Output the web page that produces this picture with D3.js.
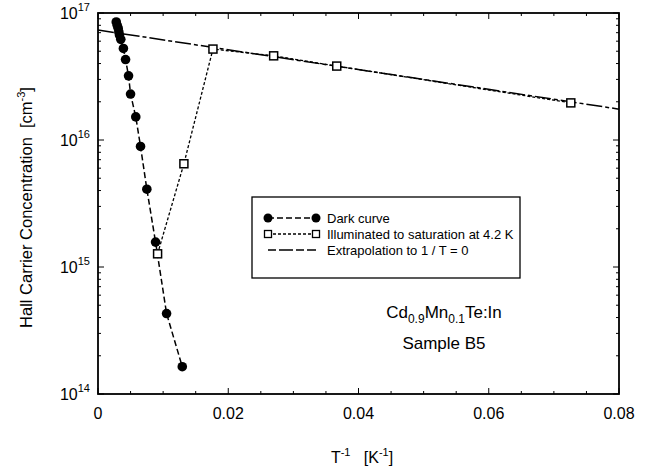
<!DOCTYPE html>
<html>
<head>
<meta charset="utf-8">
<script src="https://cdn.jsdelivr.net/npm/d3@7"></script>
<style>
  body { margin: 0; background: #fff; }
  svg { font-family: "Liberation Sans", Arial, sans-serif; }
</style>
</head>
<body>
<div id="plot"></div>
<script>
// Data (x = 1/T in K^-1, y = carrier concentration in cm^-3)
const darkX = [0.0028, 0.00295, 0.0031, 0.0032, 0.0033, 0.0035, 0.0039, 0.00423, 0.00469, 0.005, 0.0058, 0.00653, 0.0075, 0.00884, 0.01053, 0.01294];
const darkY = [8.5e16, 8.0e16, 7.6e16, 7.1e16, 6.7e16, 6.2e16, 5.26e16, 4.3e16, 3.2e16, 2.3e16, 1.52e16, 8.9e15, 4.1e15, 1.57e15, 4.3e14, 1.64e14];

const illumX = [0.00915, 0.01319, 0.01765, 0.02697, 0.03666, 0.0726];
const illumY = [1.27e15, 6.5e15, 5.2e16, 4.6e16, 3.82e16, 1.96e16];

const extrapX = [0, 0.08];
const extrapY = [7.35e16, 1.75e16];

const xTicks = [0, 0.02, 0.04, 0.06, 0.08];
const xTickLabels = ["0", "0.02", "0.04", "0.06", "0.08"];
const yExponents = [14, 15, 16, 17];

const legendLabels = ["Dark curve", "Illuminated to saturation at  4.2 K", "Extrapolation to 1 / T = 0"];

// Layout
const W = 647, H = 476;
const margin = {top: 13, right: 28, bottom: 82, left: 98};
const width = W - margin.left - margin.right;
const height = H - margin.top - margin.bottom;

const svg = d3.select("#plot")
    .append("svg")
    .attr("width", W)
    .attr("height", H);

const g = svg.append("g")
    .attr("transform", `translate(${margin.left},${margin.top})`);

const x = d3.scaleLinear().domain([0, 0.08]).range([0, width]);
const y = d3.scaleLog().domain([1e14, 1e17]).range([height, 0]);

// Frame
g.append("rect")
    .attr("width", width)
    .attr("height", height)
    .attr("fill", "none")
    .attr("stroke", "#000")
    .attr("stroke-width", 1.8);

// Ticks (inward on all four sides)
const xMinor = d3.range(0, 0.0801, 0.005);
const yMinor = [];
for (let e = 14; e < 17; e++) for (let m = 2; m <= 9; m++) yMinor.push(m * Math.pow(10, e));

const tickG = g.append("g").attr("stroke", "#000").attr("stroke-width", 1);
xMinor.forEach(v => {
    const major = xTicks.some(t => Math.abs(t - v) < 1e-9);
    const len = major ? 6 : 3;
    tickG.append("line").attr("x1", x(v)).attr("x2", x(v)).attr("y1", height).attr("y2", height - len);
    tickG.append("line").attr("x1", x(v)).attr("x2", x(v)).attr("y1", 0).attr("y2", len);
});
yMinor.forEach(v => {
    tickG.append("line").attr("x1", 0).attr("x2", 3).attr("y1", y(v)).attr("y2", y(v));
    tickG.append("line").attr("x1", width).attr("x2", width - 3).attr("y1", y(v)).attr("y2", y(v));
});
yExponents.forEach(e => {
    const v = Math.pow(10, e);
    tickG.append("line").attr("x1", 0).attr("x2", 6).attr("y1", y(v)).attr("y2", y(v));
    tickG.append("line").attr("x1", width).attr("x2", width - 6).attr("y1", y(v)).attr("y2", y(v));
});

// X tick labels
g.selectAll(".xlab")
    .data(xTicks)
    .enter().append("text")
    .attr("x", d => x(d))
    .attr("y", height + 25)
    .attr("text-anchor", "middle")
    .style("font-size", "16px")
    .text((d, i) => xTickLabels[i]);

// Y tick labels: 10^n
yExponents.forEach(e => {
    const t = g.append("text")
        .attr("x", -8)
        .attr("y", y(Math.pow(10, e)) + 6)
        .attr("text-anchor", "end")
        .style("font-size", "16px");
    t.append("tspan").text("10");
    t.append("tspan").attr("dy", -8).style("font-size", "11px").text(e);
});

// Axis titles
const xt = svg.append("text")
    .attr("x", 362)
    .attr("y", 463)
    .attr("text-anchor", "middle")
    .style("font-size", "16px");
xt.append("tspan").text("T");
xt.append("tspan").attr("dy", -7).style("font-size", "11px").text("-1");
xt.append("tspan").attr("dy", 7).text("\u00a0\u00a0\u00a0[K");
xt.append("tspan").attr("dy", -7).style("font-size", "11px").text("-1");
xt.append("tspan").attr("dy", 7).text("]");

const yt = svg.append("text")
    .attr("transform", `translate(32,${margin.top + height / 2 + 4}) rotate(-90)`)
    .attr("text-anchor", "middle")
    .style("font-size", "16.5px");
yt.append("tspan").text("Hall Carrier Concentration\u00a0\u00a0[cm");
yt.append("tspan").attr("dy", -7).style("font-size", "11px").text("-3");
yt.append("tspan").attr("dy", 7).text("]");

// Lines
const line = d3.line().x(d => x(d[0])).y(d => y(d[1]));
const darkPts = darkX.map((v, i) => [v, darkY[i]]);
const illumPts = illumX.map((v, i) => [v, illumY[i]]);
const extrapPts = extrapX.map((v, i) => [v, extrapY[i]]);

g.append("path")
    .datum(extrapPts)
    .attr("d", line)
    .attr("fill", "none")
    .attr("stroke", "#000")
    .attr("stroke-width", 1.5)
    .attr("stroke-dasharray", "16,3,4,3");

g.append("path")
    .datum(illumPts)
    .attr("d", line)
    .attr("fill", "none")
    .attr("stroke", "#000")
    .attr("stroke-width", 1.3)
    .attr("stroke-dasharray", "3,2");

g.append("path")
    .datum(darkPts)
    .attr("d", line)
    .attr("fill", "none")
    .attr("stroke", "#000")
    .attr("stroke-width", 1.5)
    .attr("stroke-dasharray", "6,3");

// Markers
g.selectAll(".dark")
    .data(darkPts)
    .enter().append("circle")
    .attr("cx", d => x(d[0]))
    .attr("cy", d => y(d[1]))
    .attr("r", 4.8)
    .attr("fill", "#000");

g.selectAll(".illum")
    .data(illumPts)
    .enter().append("rect")
    .attr("x", d => x(d[0]) - 4)
    .attr("y", d => y(d[1]) - 4)
    .attr("width", 8)
    .attr("height", 8)
    .attr("fill", "#fff")
    .attr("stroke", "#000")
    .attr("stroke-width", 1.5);

// Legend
const lg = svg.append("g").attr("transform", "translate(252,197)");
lg.append("rect")
    .attr("width", 268)
    .attr("height", 81)
    .attr("fill", "#fff")
    .attr("stroke", "#000")
    .attr("stroke-width", 1.3);

const rowY = [21, 37, 53];
const styles = [
    {dash: "6,3", w: 1.5},
    {dash: "3,2", w: 1.3},
    {dash: "8,3,14,3", w: 1.5}
];
legendLabels.forEach((lab, i) => {
    lg.append("line")
        .attr("x1", 16).attr("x2", 64)
        .attr("y1", rowY[i]).attr("y2", rowY[i])
        .attr("stroke", "#000")
        .attr("stroke-width", styles[i].w)
        .attr("stroke-dasharray", styles[i].dash);
    if (i === 0) {
        [16, 64].forEach(cx => lg.append("circle").attr("cx", cx).attr("cy", rowY[i]).attr("r", 4.5).attr("fill", "#000"));
    } else if (i === 1) {
        [16, 64].forEach(cx => lg.append("rect").attr("x", cx - 3.5).attr("y", rowY[i] - 3.5)
            .attr("width", 7).attr("height", 7).attr("fill", "#fff").attr("stroke", "#000").attr("stroke-width", 1.3));
    }
    lg.append("text")
        .attr("x", 75)
        .attr("y", rowY[i] + 5)
        .style("font-size", "13px")
        .text(lab);
});

// Sample annotation
const ann = svg.append("text")
    .attr("x", 444)
    .attr("y", 318)
    .attr("text-anchor", "middle")
    .style("font-size", "17px");
ann.append("tspan").text("Cd");
ann.append("tspan").attr("dy", 5).style("font-size", "12px").text("0.9");
ann.append("tspan").attr("dy", -5).text("Mn");
ann.append("tspan").attr("dy", 5).style("font-size", "12px").text("0.1");
ann.append("tspan").attr("dy", -5).text("Te:In");

svg.append("text")
    .attr("x", 444)
    .attr("y", 349)
    .attr("text-anchor", "middle")
    .style("font-size", "17px")
    .text("Sample B5");
</script>
</body>
</html>
